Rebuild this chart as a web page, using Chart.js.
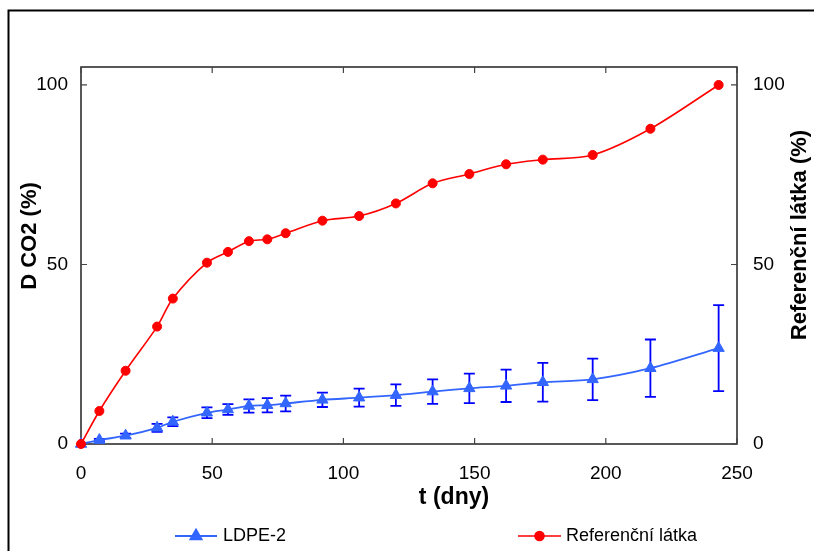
<!DOCTYPE html>
<html><head><meta charset="utf-8">
<script src="https://cdn.jsdelivr.net/npm/chart.js@4.4.0/dist/chart.umd.min.js"></script>
<style>html,body{margin:0;padding:0;background:#fff}#wrap{width:814px;height:551px;position:relative}</style>
</head><body><div id="wrap"><canvas id="c"></canvas></div>
<script>
// ---- data ----
const days = [0, 7, 17, 29, 35, 48, 56, 64, 71, 78, 92, 106, 120, 134, 148, 162, 176, 195, 217, 243];
const ldpe = [0, 1.1, 2.3, 4.5, 6.2, 8.7, 9.6, 10.6, 10.8, 11.3, 12.3, 12.9, 13.6, 14.6, 15.5, 16.2, 17.2, 18.0, 21.1, 26.7];
const ldpeErr = [0, 0.3, 0.6, 1.1, 1.2, 1.5, 1.5, 1.85, 2.0, 2.2, 2.0, 2.5, 3.0, 3.4, 4.1, 4.5, 5.4, 5.8, 8.0, 12.0];
const reference = [0, 9.2, 20.4, 32.7, 40.5, 50.5, 53.5, 56.5, 57.0, 58.7, 62.2, 63.5, 67.0, 72.6, 75.2, 77.9, 79.2, 80.5, 87.8, 100];
const xTicks = [0, 50, 100, 150, 200, 250];
const yTicks = [0, 50, 100];
const seriesNames = ['LDPE-2', 'Referenční látka'];
const xTitle = 't (dny)';
const yTitle = 'D CO2 (%)';
const y2Title = 'Referenční látka (%)';

const FONT = "'Liberation Sans', Arial, sans-serif";
const BLUE = '#3366FF', ERRBLUE = '#0000FF', RED = '#FF0000';

const pts = (ys) => days.map((d, i) => ({x: d, y: ys[i]}));

const framePlugin = {
  id: 'frame',
  beforeDraw(chart) {
    const ctx = chart.ctx;
    ctx.save();
    ctx.fillStyle = '#fff';
    ctx.fillRect(0, 0, chart.width, chart.height);
    ctx.strokeStyle = '#000';
    ctx.lineWidth = 2;
    ctx.beginPath();
    ctx.moveTo(8.5, chart.height);
    ctx.lineTo(8.5, 10.5);
    ctx.lineTo(chart.width, 10.5);
    ctx.stroke();
    ctx.restore();
  }
};

const boxPlugin = {
  id: 'box',
  beforeDatasetsDraw(chart) {
    const {ctx, chartArea: a, scales} = chart;
    ctx.save();
    ctx.strokeStyle = '#222';
    ctx.lineWidth = 1.5;
    ctx.strokeRect(a.left, a.top, a.right - a.left, a.bottom - a.top);
    ctx.lineWidth = 1.2;
    ctx.strokeStyle = '#444';
    const L = 6;
    ctx.beginPath();
    scales.x.ticks.forEach(t => {
      const px = scales.x.getPixelForValue(t.value);
      ctx.moveTo(px, a.bottom); ctx.lineTo(px, a.bottom - L);
      ctx.moveTo(px, a.top); ctx.lineTo(px, a.top + L);
    });
    scales.y.ticks.forEach(t => {
      const py = scales.y.getPixelForValue(t.value);
      ctx.moveTo(a.left, py); ctx.lineTo(a.left + L, py);
    });
    scales.y2.ticks.forEach(t => {
      const py = scales.y2.getPixelForValue(t.value);
      ctx.moveTo(a.right, py); ctx.lineTo(a.right - L, py);
    });
    ctx.stroke();
    // error bars for LDPE-2
    const xs = scales.x, ys = scales.y;
    ctx.strokeStyle = ERRBLUE;
    ctx.lineWidth = 1.8;
    ctx.beginPath();
    days.forEach((d, i) => {
      const e = ldpeErr[i];
      if (!e) return;
      const px = xs.getPixelForValue(d);
      const pTop = ys.getPixelForValue(ldpe[i] + e);
      const pBot = ys.getPixelForValue(ldpe[i] - e);
      ctx.moveTo(px, pTop); ctx.lineTo(px, pBot);
      ctx.moveTo(px - 5.5, pTop); ctx.lineTo(px + 5.5, pTop);
      ctx.moveTo(px - 5.5, pBot); ctx.lineTo(px + 5.5, pBot);
    });
    ctx.stroke();
    ctx.restore();
  }
};

const titlesPlugin = {
  id: 'titles',
  afterDraw(chart) {
    const ctx = chart.ctx;
    ctx.save();
    ctx.fillStyle = '#000';
    ctx.textAlign = 'center';
    ctx.textBaseline = 'middle';
    ctx.font = "bold 23px " + FONT;
    ctx.fillText(xTitle, 454, 498);
    ctx.font = "bold 22px " + FONT;
    ctx.save(); ctx.translate(30, 236); ctx.rotate(-Math.PI / 2); ctx.fillText(yTitle, 0, 0); ctx.restore();
    ctx.save(); ctx.translate(800, 235); ctx.rotate(-Math.PI / 2); ctx.fillText(y2Title, 0, 0); ctx.restore();
    // legend
    const items = [
      {ds: 0, lx0: 175, lx1: 217, tx: 223},
      {ds: 1, lx0: 518, lx1: 561, tx: 566}
    ];
    const ly = 536;
    ctx.font = "18px " + FONT;
    ctx.textAlign = 'left';
    items.forEach(it => {
      const ds = chart.data.datasets[it.ds];
      ctx.strokeStyle = ds.borderColor;
      ctx.lineWidth = ds.borderWidth;
      ctx.beginPath(); ctx.moveTo(it.lx0, ly); ctx.lineTo(it.lx1, ly); ctx.stroke();
      Chart.helpers.drawPoint(ctx, {pointStyle: ds.pointStyle, radius: ds.pointRadius, rotation: 0, borderWidth: 1},
        (it.lx0 + it.lx1) / 2, ly);
      ctx.fillStyle = ds.pointBackgroundColor;
      ctx.strokeStyle = ds.pointBorderColor;
      ctx.fill();
      ctx.fillStyle = '#000';
      ctx.fillText(ds.label, it.tx, ly);
    });
    ctx.restore();
  }
};

const fixedTicks = (arr) => (scale) => { scale.ticks = arr.map(v => ({value: v})); };

new Chart(document.getElementById('c'), {
  type: 'line',
  data: {
    datasets: [
      {
        label: seriesNames[0], data: pts(ldpe), yAxisID: 'y', order: 2,
        borderColor: BLUE, borderWidth: 1.8, tension: 0.3,
        pointStyle: 'triangle', pointRadius: 6.5, pointBackgroundColor: BLUE, pointBorderColor: BLUE, pointBorderWidth: 1,
        clip: false
      },
      {
        label: seriesNames[1], data: pts(reference), yAxisID: 'y2', order: 1,
        borderColor: RED, borderWidth: 1.6, tension: 0.3,
        pointStyle: 'circle', pointRadius: 4.5, pointBackgroundColor: RED, pointBorderColor: RED, pointBorderWidth: 1,
        clip: false
      }
    ]
  },
  options: {
    responsive: true, maintainAspectRatio: false, animation: false,
    layout: {padding: {top: 67, left: 0, right: 0, bottom: 0}},
    plugins: {legend: {display: false}, tooltip: {enabled: false}},
    elements: {line: {cubicInterpolationMode: 'default'}},
    scales: {
      x: {
        type: 'linear', min: 0, max: 250,
        afterBuildTicks: fixedTicks(xTicks),
        afterFit: (s) => { s.height = 107; },
        grid: {display: false, drawTicks: false}, border: {display: false},
        ticks: {color: '#000', font: {family: FONT, size: 19}, padding: 18, maxRotation: 0}
      },
      y: {
        position: 'left', min: 0, max: 105,
        afterBuildTicks: fixedTicks(yTicks),
        afterFit: (s) => { s.width = 81; },
        grid: {display: false, drawTicks: false}, border: {display: false},
        ticks: {color: '#000', font: {family: FONT, size: 19}, padding: 13}
      },
      y2: {
        position: 'right', min: 0, max: 105,
        afterBuildTicks: fixedTicks(yTicks),
        afterFit: (s) => { s.width = 77; },
        grid: {display: false, drawTicks: false}, border: {display: false},
        ticks: {color: '#000', font: {family: FONT, size: 19}, padding: 16}
      }
    }
  },
  plugins: [framePlugin, boxPlugin, titlesPlugin]
});
</script>
</body></html>
